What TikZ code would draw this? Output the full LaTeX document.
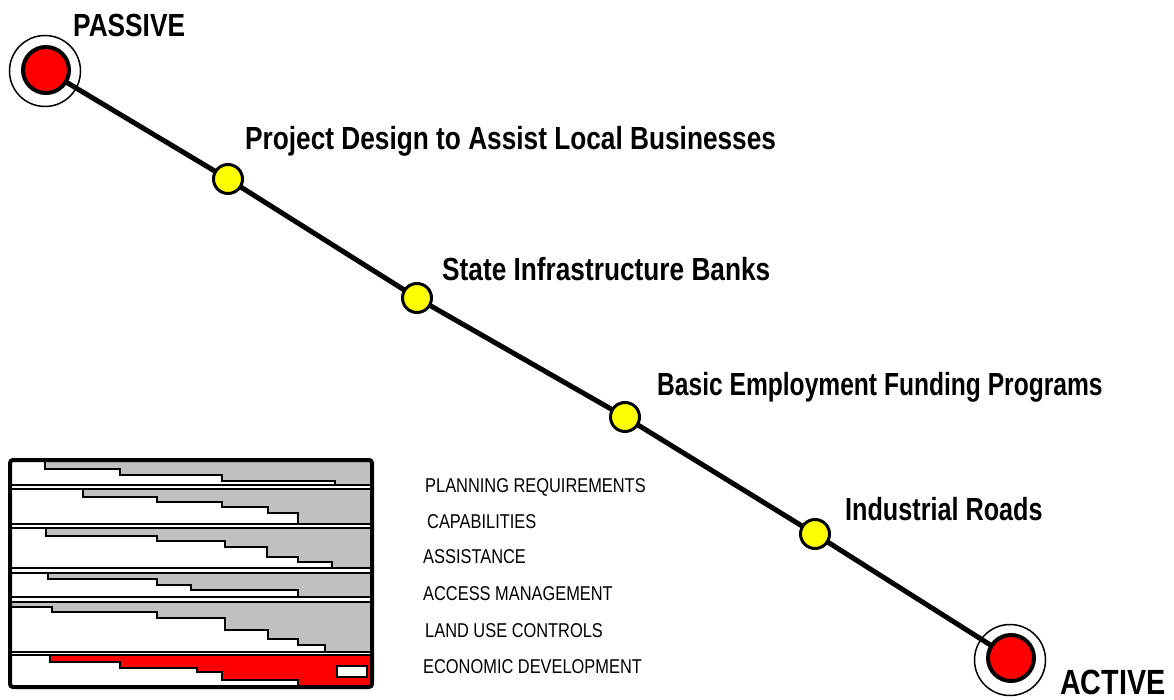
\documentclass[tikz,border=0pt]{standalone}
\usepackage{fontspec}
\newfontfamily\narrowfont{Liberation Sans}[FakeStretch=0.82]
\definecolor{barGray}{RGB}{192,192,192}
\definecolor{pureRed}{RGB}{255,0,0}
\definecolor{pureYellow}{RGB}{255,255,0}
\pgfdeclarelayer{background}
\pgfsetlayers{background,main}
\tikzset{
  bigLabel/.style={anchor=base west, inner sep=0pt, font=\narrowfont\bfseries\fontsize{32}{38}\selectfont},
  endLabel/.style={anchor=base west, inner sep=0pt, font=\narrowfont\bfseries\fontsize{35}{40}\selectfont},
  smallLabel/.style={anchor=base west, inner sep=0pt, font=\narrowfont\fontsize{20}{24}\selectfont},
  redDot/.style={circle, draw=black, fill=pureRed, line width=4pt, minimum size=46pt, inner sep=0pt},
  ringDot/.style={circle, draw=black, line width=1.5pt, minimum size=71pt, inner sep=0pt},
  yellowDot/.style={circle, draw=black, fill=pureYellow, line width=3pt, minimum size=29pt, inner sep=0pt},
  mainLine/.style={line width=5pt},
  stairLine/.style={line width=2.7pt, line join=miter},
  sepLine/.style={line width=2.3pt},
}
\begin{document}
\begin{tikzpicture}[x=1pt, y=-1pt]
\useasboundingbox (0,0) rectangle (1174,700);

% end circles
\node[ringDot] (ringP) at (45,71) {};
\node[redDot] (P) at (46,70) {};
\node[ringDot] (ringA) at (1010,660) {};
\node[redDot] (A) at (1011,658) {};

% intermediate dots
\node[yellowDot] (d1) at (228,179) {};
\node[yellowDot] (d2) at (417,298) {};
\node[yellowDot] (d3) at (625,417) {};
\node[yellowDot] (d4) at (815,534) {};

\begin{pgfonlayer}{background}
\draw[mainLine] (P.center) -- (d1.center) -- (d2.center) -- (d3.center) -- (d4.center) -- (A.center);
\end{pgfonlayer}

% labels
\node[bigLabel] (lP) at (73,37) {PASSIVE};
\node[endLabel] (lA) at (1060,694) {ACTIVE};
\node[bigLabel] (l1) at (245,150) {Project Design to Assist Local Businesses};
\node[bigLabel] (l2) at (442,280) {State Infrastructure Banks};
\node[bigLabel] (l3) at (657,395) {\scalebox{0.937}[1]{Basic Employment Funding Programs}};
\node[bigLabel] (l4) at (845,520) {\scalebox{0.96}[1]{Industrial Roads}};

% bar chart
% row 1
\fill[barGray] (45,460) -- (45,469) -- (120,469) -- (120,475) -- (222,475) -- (222,481) -- (335,481) -- (335,485) -- (372,485) -- (372,460) -- cycle;
\draw[stairLine] (45,460) -- (45,469) -- (120,469) -- (120,475) -- (222,475) -- (222,481) -- (335,481) -- (335,486);
% row 2
\fill[barGray] (83,489) -- (83,497) -- (157,497) -- (157,502) -- (222,502) -- (222,507) -- (268,507) -- (268,513) -- (298,513) -- (298,524) -- (372,524) -- (372,489) -- cycle;
\draw[stairLine] (83,489) -- (83,497) -- (157,497) -- (157,502) -- (222,502) -- (222,507) -- (268,507) -- (268,513) -- (298,513) -- (298,524);
% row 3
\fill[barGray] (46,528) -- (46,536) -- (157,536) -- (157,541) -- (225,541) -- (225,547) -- (267,547) -- (267,557) -- (298,557) -- (298,562) -- (332,562) -- (332,568) -- (372,568) -- (372,528) -- cycle;
\draw[stairLine] (46,528) -- (46,536) -- (157,536) -- (157,541) -- (225,541) -- (225,547) -- (267,547) -- (267,557) -- (298,557) -- (298,562) -- (332,562) -- (332,568);
% row 4
\fill[barGray] (48,573) -- (48,579) -- (157,579) -- (157,585) -- (191,585) -- (191,590) -- (298,590) -- (298,597) -- (372,597) -- (372,573) -- cycle;
\draw[stairLine] (48,573) -- (48,579) -- (157,579) -- (157,585) -- (191,585) -- (191,590) -- (298,590) -- (298,597);
% row 5
\fill[barGray] (10,602) -- (10,607) -- (52,607) -- (52,612) -- (157,612) -- (157,618) -- (225,618) -- (225,630) -- (268,630) -- (268,639) -- (298,639) -- (298,645) -- (325,645) -- (325,652) -- (372,652) -- (372,602) -- cycle;
\draw[stairLine] (10,607) -- (52,607) -- (52,612) -- (157,612) -- (157,618) -- (225,618) -- (225,630) -- (268,630) -- (268,639) -- (298,639) -- (298,645) -- (325,645) -- (325,652);
% row 6
\fill[pureRed] (50,655) -- (50,662) -- (120,662) -- (120,668) -- (197,668) -- (197,672) -- (222,672) -- (222,680) -- (298,680) -- (298,687) -- (372,687) -- (372,655) -- cycle;
\draw[stairLine] (50,655) -- (50,662) -- (120,662) -- (120,668) -- (197,668) -- (197,672) -- (222,672) -- (222,680) -- (298,680) -- (298,686);
\draw[line width=1.5pt, fill=white] (337,666) rectangle (367,677);
% separators
\foreach \yy in {485,489,524,528,568,573,597,602,652,655}
  \draw[sepLine] (10,\yy) -- (372,\yy);
% frame
\draw[line width=4pt, rounded corners=3pt] (10,460) rectangle (372,687);

% row labels
\node[smallLabel] (r1) at (425,492) {PLANNING REQUIREMENTS};
\node[smallLabel] (r2) at (427,528) {CAPABILITIES};
\node[smallLabel] (r3) at (423,563) {ASSISTANCE};
\node[smallLabel] (r4) at (423,600) {ACCESS MANAGEMENT};
\node[smallLabel] (r5) at (425,637) {LAND USE CONTROLS};
\node[smallLabel] (r6) at (423,673) {ECONOMIC DEVELOPMENT};
\end{tikzpicture}
\end{document}
